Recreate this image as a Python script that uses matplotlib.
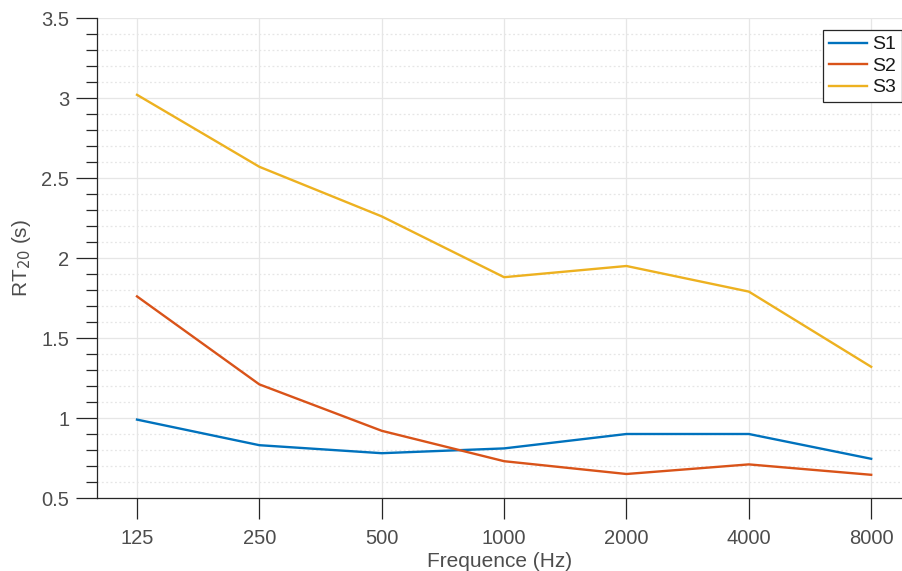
import matplotlib
matplotlib.use("Agg")
import matplotlib.pyplot as plt
from matplotlib.ticker import MultipleLocator, FuncFormatter

# octave band centre frequencies and reverberation times
freqs = ["125", "250", "500", "1000", "2000", "4000", "8000"]
s1 = [0.99, 0.83, 0.78, 0.81, 0.90, 0.90, 0.745]
s2 = [1.76, 1.21, 0.92, 0.73, 0.65, 0.71, 0.645]
s3 = [3.02, 2.57, 2.26, 1.88, 1.95, 1.79, 1.32]

plt.rcParams["font.family"] = ["Liberation Sans", "DejaVu Sans"]
txt = "#4d4d4d"

fig = plt.figure(figsize=(9.03, 5.71), dpi=100)
ax = fig.add_axes([97 / 903, 1 - 498 / 571, 806 / 903, 480 / 571])

pos = list(range(1, len(freqs) + 1))
ax.plot(pos, s1, color="#0072BD", lw=1.7, label="S1")
ax.plot(pos, s2, color="#D95319", lw=1.7, label="S2")
ax.plot(pos, s3, color="#EDB120", lw=1.7, label="S3")

ax.set_xlim(0.673, 7.26)
ax.set_ylim(0.5, 3.5)
ax.set_xticks(pos)
ax.set_xticklabels(freqs)
ax.yaxis.set_major_locator(MultipleLocator(0.5))
ax.yaxis.set_minor_locator(MultipleLocator(0.1))
ax.yaxis.set_major_formatter(FuncFormatter(lambda v, p: "%g" % round(v, 2)))

ax.grid(which="major", color="#e6e6e6", lw=0.9, ls="-")
ax.grid(which="minor", axis="y", color="#e6e6e6", lw=0.9, ls=(0, (1.5, 2)))
ax.set_axisbelow(True)

for s in ["top", "right"]:
    ax.spines[s].set_visible(False)
for s in ["left", "bottom"]:
    ax.spines[s].set_color("#262626")
    ax.spines[s].set_linewidth(0.9)

ax.tick_params(which="major", direction="out", length=15, width=0.9, color="#262626",
               labelsize=14.5, labelcolor=txt, pad=5)
ax.tick_params(axis="x", which="major", pad=7)
ax.tick_params(which="minor", direction="out", length=8, width=0.9, color="#262626")
ax.tick_params(axis="x", which="minor", bottom=False)

ax.set_xlabel("Frequence (Hz)", fontsize=15, color=txt, labelpad=3)
ax.set_ylabel("RT$_{20}$ (s)", fontsize=15, color=txt, labelpad=6)

leg = ax.legend(loc="upper right", bbox_to_anchor=(0.9988, 0.975), borderaxespad=0,
                fontsize=14, fancybox=False, framealpha=1, edgecolor="#262626",
                handlelength=2.0, handletextpad=0.25, borderpad=0.3, labelspacing=0.2)
leg.get_frame().set_linewidth(0.9)
for t in leg.get_texts():
    t.set_color("#1a1a1a")

fig.savefig("out.png", dpi=100)
